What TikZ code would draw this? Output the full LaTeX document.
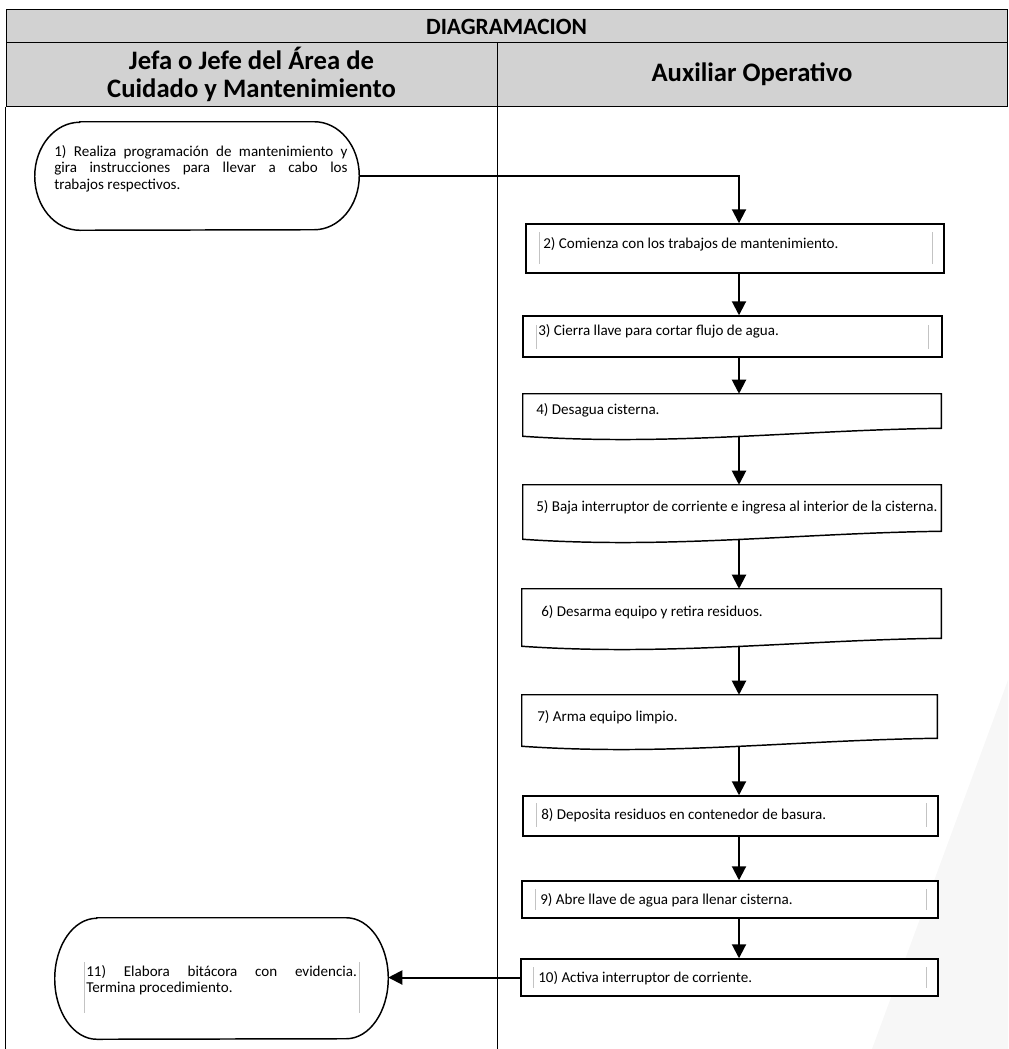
\documentclass[tikz,border=0pt]{standalone}
\usepackage{fontspec}
\setmainfont{Carlito}
\usepackage{tikz}
\usetikzlibrary{positioning, arrows.meta, shapes.geometric, calc}
\definecolor{cabecera}{RGB}{210,210,210}
\definecolor{marco}{RGB}{195,195,195}
\definecolor{marcaagua}{RGB}{247,247,247}

% contorno de documento (base ondulada) sobre un nodo ya definido
\newcommand{\docforma}[1]{%
  \draw[stepbox] (#1.north west) -- (#1.north east) -- (#1.south east)
    .. controls ($(#1.south east)+(-146,2)$) and ($(#1.south west)+(146,18)$) .. ($(#1.south west)+(0,8)$) -- cycle;}

\begin{document}
\begin{tikzpicture}[x=0.75pt, y=-0.75pt]
    % Stili
    \tikzset{
        cell/.style={
            draw=black,
            line width=0.75pt,
            fill=cabecera,
            inner sep=0pt,
            align=center,
            font=\bfseries\fontsize{20}{21}\selectfont
        },
        stepbox/.style={draw=black, line width=1.1pt, fill=white},
        holder/.style={draw=none, inner sep=0pt},
        steptext/.style={anchor=west, inner sep=0pt, font=\fontsize{11.3}{12.3}\selectfont},
        flow/.style={line width=1.5pt, -{Triangle[length=10.5pt, width=10.5pt]}},
        lane/.style={line width=0.75pt},
        tframe/.style={draw=marco, line width=0.5pt}
    }

    \useasboundingbox (0,0) rectangle (1008,1049);
    \coordinate (fondo) at (0,1049);
    \coordinate (eje) at (739,0);

    % Marca de agua
    \fill[marcaagua] (1008,680) -- (1008,1049) -- (872,1049) -- cycle;

    % --- Encabezado ---
    \node[cell, minimum width=750.75pt, minimum height=24.75pt, font=\bfseries\fontsize{17.5}{20}\selectfont] (titulo) at (506.5,26.5) {DIAGRAMACION};
    \node[cell, minimum width=368.25pt, minimum height=47.25pt] (jefe) at (251.5,74.5) {Jefa o Jefe del Área de\\Cuidado y Mantenimiento};
    \node[cell, minimum width=382.5pt, minimum height=47.25pt] (auxiliar) at (752,74.5) {Auxiliar Operativo};

    % Carriles
    \draw[lane] (jefe.south west) -- (jefe.south west |- fondo);
    \draw[lane] (jefe.south east) -- (jefe.south east |- fondo);

    % --- Jefa o Jefe: inicio ---
    \node[holder, minimum width=243pt, minimum height=81pt] (s1) at (197,176) {};
    \draw[stepbox] ($(s1.north west)+(45,0)$) -- ($(s1.north east)+(-45,0)$)
        arc[start angle=-90, end angle=90, x radius=45, y radius=54]
        -- ($(s1.south west)+(45,0)$)
        arc[start angle=90, end angle=270, x radius=45, y radius=54] -- cycle;
    \node[steptext, anchor=north west, text width=220pt, align=justify] (t1) at (54,145)
        {1) Realiza programación de mantenimiento y\linebreak gira instrucciones para llevar a cabo los\linebreak trabajos respectivos.};

    % --- Auxiliar Operativo ---
    \node[stepbox, minimum width=313.5pt, minimum height=36.75pt] (s2) at (735,248.5) {};
    \node[stepbox, minimum width=314.25pt, minimum height=30.75pt] (s3) at (732.5,336.5) {};
    \node[holder, minimum width=313.5pt, minimum height=25.5pt] (s4) at (732,411) {};
    \docforma{s4}
    \node[holder, minimum width=313.5pt, minimum height=34.5pt] (s5) at (732,508) {};
    \docforma{s5}
    \node[holder, minimum width=314.25pt, minimum height=36.75pt] (s6) at (731.5,613.5) {};
    \docforma{s6}
    \node[holder, minimum width=311.25pt, minimum height=32.25pt] (s7) at (729.5,716.5) {};
    \docforma{s7}
    \node[stepbox, minimum width=311.25pt, minimum height=30pt] (s8) at (730.5,816) {};
    \node[stepbox, minimum width=312pt, minimum height=27.75pt] (s9) at (730,899.5) {};
    \node[stepbox, minimum width=312.75pt, minimum height=27.75pt] (s10) at (729.5,977.5) {};

    % Cuadros de texto (bordes grises)
    \draw[tframe] (539,232) -- (539,264) (932,232) -- (932,264);
    \draw[tframe] (536,325) -- (536,349) (928,325) -- (928,349);
    \draw[tframe] (536,803) -- (536,827) (926,803) -- (926,827);
    \draw[tframe] (535,889) -- (535,910) (926,889) -- (926,910);
    \draw[tframe] (533,967) -- (533,988) (926,967) -- (926,988);

    \node[steptext] (t2) at (543,244) {2) Comienza con los trabajos de mantenimiento.};
    \node[steptext] (t3) at (538,331) {3) Cierra llave para cortar flujo de agua.};
    \node[steptext] (t4) at (536,410) {4) Desagua cisterna.};
    \node[steptext] (t5) at (536,507) {5) Baja interruptor de corriente e ingresa al interior de la cisterna.};
    \node[steptext] (t6) at (541,612) {6) Desarma equipo y retira residuos.};
    \node[steptext] (t7) at (537,717) {7) Arma equipo limpio.};
    \node[steptext] (t8) at (541,815) {8) Deposita residuos en contenedor de basura.};
    \node[steptext] (t9) at (540,900) {9) Abre llave de agua para llenar cisterna.};
    \node[steptext] (t10) at (538,978) {10) Activa interruptor de corriente.};

    % --- Jefa o Jefe: cierre ---
    \node[holder, minimum width=249.75pt, minimum height=90.75pt] (s11) at (221.5,978.5) {};
    \draw[stepbox] ($(s11.north west)+(42,0)$) -- ($(s11.north east)+(-42,0)$)
        arc[start angle=-90, end angle=90, x radius=42, y radius=60.5]
        -- ($(s11.south west)+(42,0)$)
        arc[start angle=90, end angle=270, x radius=42, y radius=60.5] -- cycle;
    \draw[tframe] (84,962) -- (84,1013) (359,962) -- (359,1013);
    \node[steptext, anchor=north west, text width=203pt, align=justify] (t11) at (86,965)
        {11) Elabora bitácora con evidencia.\linebreak Termina procedimiento.};

    % --- Flechas ---
    \draw[flow] (s1.east) -| (s2.north -| eje);
    \foreach \a/\b/\d in {s2/s3/0, s3/s4/0, s4/s5/8, s5/s6/8, s6/s7/8, s7/s8/8, s8/s9/0, s9/s10/0} {
        \draw[flow] ($(\a.south -| eje)+(0,\d)$) -- (\b.north -| eje);
    }
    \draw[flow] (s10.west) -- (s10.west -| s11.east);

\end{tikzpicture}
\end{document}
